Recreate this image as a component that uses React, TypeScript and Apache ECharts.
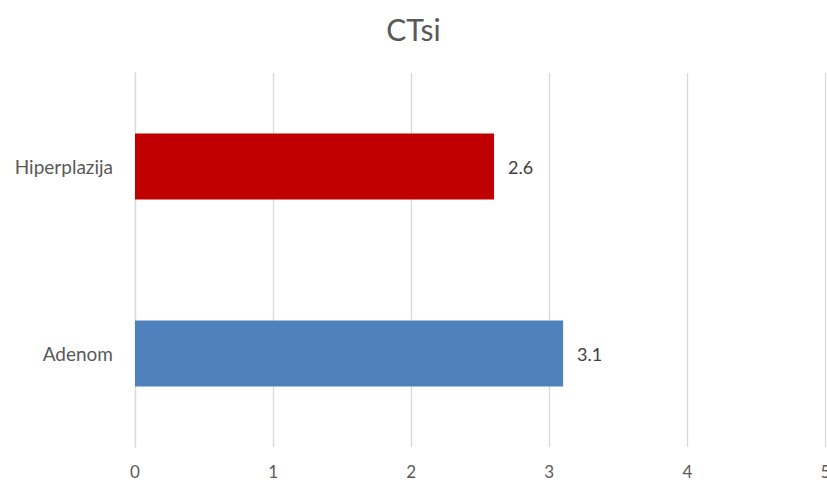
import React, { useEffect, useRef } from "react";
import * as echarts from "echarts";

const categories = ["Adenom", "Hiperplazija"];
const values = [3.1, 2.6];
const barColors = ["#4F81BD", "#C00000"];
const xTicks = [0, 1, 2, 3, 4, 5];

export default function App() {
  const ref = useRef<HTMLDivElement>(null);
  useEffect(() => {
    if (!ref.current) return;
    const chart = echarts.init(ref.current, undefined, { renderer: "svg" });
    const font = "Lato, 'Open Sans', sans-serif";
    chart.setOption({
      animation: false,
      backgroundColor: "#ffffff",
      title: {
        text: "CTsi",
        left: "center",
        top: 9,
        textStyle: { fontFamily: font, fontSize: 30, fontWeight: "normal", color: "#595959" },
      },
      grid: { left: 135, right: 1.5, top: 73, bottom: 36, containLabel: false, outerBoundsMode: "none" },
      xAxis: {
        type: "value",
        min: xTicks[0],
        max: xTicks[xTicks.length - 1],
        interval: 1,
        axisLine: { show: false },
        axisTick: { show: false },
        splitLine: { show: true, lineStyle: { color: "#D9D9D9", width: 1.3 } },
        axisLabel: { fontFamily: font, fontSize: 17, lineHeight: 17, color: "#595959", margin: 16 },
      },
      yAxis: {
        type: "category",
        data: categories,
        axisLine: { show: true, lineStyle: { color: "#D9D9D9", width: 1.3 } },
        axisTick: { show: false },
        axisLabel: { fontFamily: font, fontSize: 19, color: "#595959", margin: 22 },
      },
      series: [
        {
          type: "bar",
          barWidth: 66,
          data: values.map((v, i) => ({ value: v, itemStyle: { color: barColors[i] } })),
          label: {
            show: true,
            position: "right",
            distance: 14,
            fontFamily: font,
            fontSize: 18,
            color: "#404040",
          },
        },
      ],
    });
    return () => chart.dispose();
  }, []);
  return <div ref={ref} style={{ position: "fixed", left: 0, top: 0, width: 827, height: 483 }} />;
}
